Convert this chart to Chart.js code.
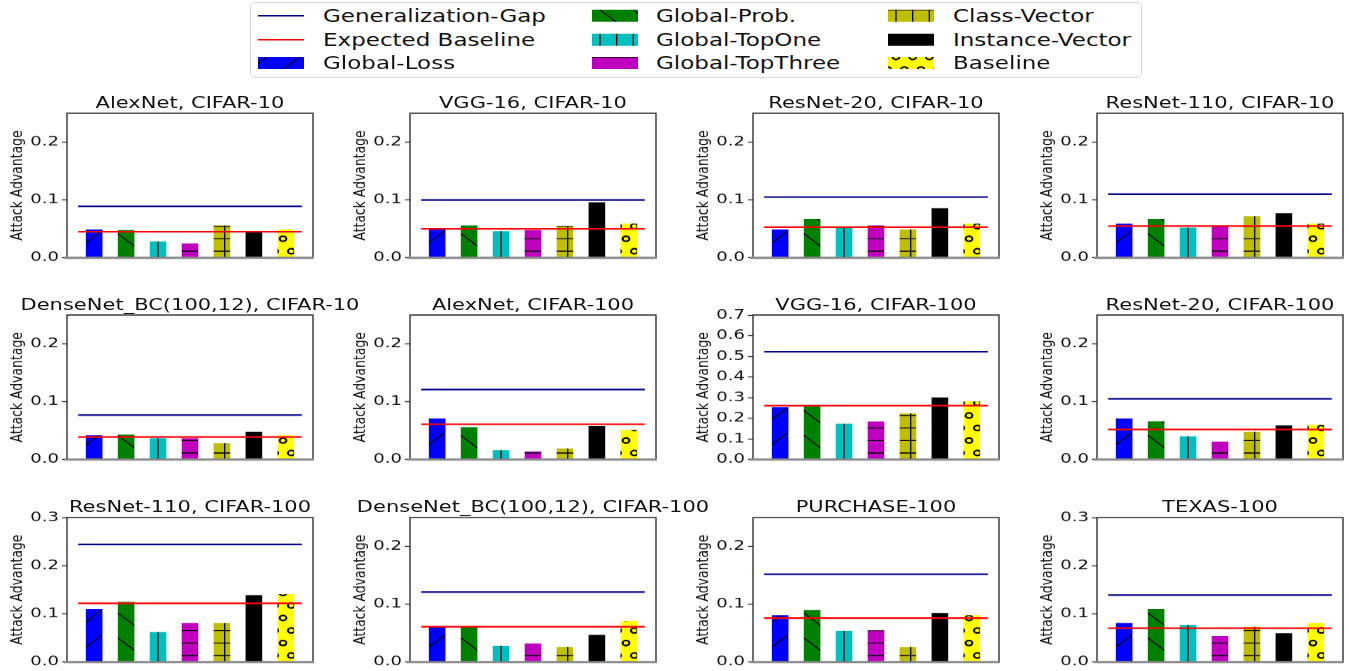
<!DOCTYPE html>
<html lang="en">
<head>
<meta charset="UTF-8">
<title>Attack Advantage per model and dataset</title>
<script src="https://cdn.jsdelivr.net/npm/chart.js"></script>
<style>
  html, body { margin: 0; padding: 0; background: #fff; overflow: hidden; }
  body { font-family: "DejaVu Sans", sans-serif; color: #111; }
  #page { position: absolute; left: 0; top: 0; width: 1349px; transform-origin: 0 0; }
  .panel { position: absolute; }
  .ptitle { position: absolute; font-size: 21px; line-height: 21px; white-space: nowrap; transform: translateX(-50%); }
  #legend { position: absolute; border: 1px solid #d0d0d0; border-radius: 6px; background: #fff; box-sizing: border-box; }
  .ltext { position: absolute; font-size: 23px; line-height: 23px; white-space: nowrap; }
  .lhandle { position: absolute; }
</style>
</head>
<body>
<div id="page"></div>
<script>
// ---- data ----
const methods = ['Global-Loss', 'Global-Prob.', 'Global-TopOne', 'Global-TopThree', 'Class-Vector', 'Instance-Vector', 'Baseline'];
const methodColors = ['#0000ff', '#008000', '#00bfbf', '#bf00bf', '#bfbf00', '#000000', '#ffff00'];
const methodHatches = ['/', '\\', '|', '-', '+', '', 'o'];
const xPos = [0, 1, 2, 3, 4, 5, 6];

const titles = [
  'AlexNet, CIFAR-10', 'VGG-16, CIFAR-10', 'ResNet-20, CIFAR-10', 'ResNet-110, CIFAR-10',
  'DenseNet_BC(100,12), CIFAR-10', 'AlexNet, CIFAR-100', 'VGG-16, CIFAR-100', 'ResNet-20, CIFAR-100',
  'ResNet-110, CIFAR-100', 'DenseNet_BC(100,12), CIFAR-100', 'PURCHASE-100', 'TEXAS-100'
];

// one row per subplot, one value per method
const attackAdv = [
  [0.049, 0.048, 0.028, 0.025, 0.056, 0.046, 0.049],
  [0.049, 0.056, 0.046, 0.048, 0.055, 0.096, 0.059],
  [0.049, 0.067, 0.052, 0.056, 0.049, 0.086, 0.059],
  [0.059, 0.067, 0.052, 0.055, 0.072, 0.077, 0.059],
  [0.042, 0.043, 0.037, 0.037, 0.028, 0.048, 0.042],
  [0.071, 0.056, 0.016, 0.014, 0.019, 0.058, 0.051],
  [0.253, 0.258, 0.174, 0.184, 0.223, 0.300, 0.281],
  [0.071, 0.066, 0.040, 0.031, 0.048, 0.059, 0.060],
  [0.110, 0.125, 0.062, 0.081, 0.081, 0.139, 0.141],
  [0.061, 0.061, 0.028, 0.032, 0.026, 0.047, 0.071],
  [0.081, 0.090, 0.054, 0.055, 0.026, 0.085, 0.081],
  [0.081, 0.110, 0.077, 0.054, 0.073, 0.060, 0.081]
];
const genGap = [0.089, 0.100, 0.105, 0.110, 0.077, 0.121, 0.522, 0.105, 0.244, 0.121, 0.152, 0.139];
const expBaseline = [0.045, 0.050, 0.053, 0.055, 0.039, 0.061, 0.261, 0.052, 0.122, 0.061, 0.076, 0.070];
const lineSpan = [-0.5, 6.5];

const yMax = [0.25, 0.25, 0.25, 0.25, 0.25, 0.25, 0.7, 0.25, 0.3, 0.25, 0.25, 0.3];
const ticks025 = [0, 0.1, 0.2];
const ticks03 = [0, 0.1, 0.2, 0.3];
const ticks07 = [0, 0.1, 0.2, 0.3, 0.4, 0.5, 0.6, 0.7];
const yTicks = [ticks025, ticks025, ticks025, ticks025, ticks025, ticks025, ticks07, ticks025, ticks03, ticks025, ticks025, ticks03];

// ---- layout (reference is squashed vertically; we draw tall then scale) ----
const SQ = 0.75;
const colLeft = [67, 410, 753, 1097];
const rowTop = [113.3, 315, 517.3];
const PLOT_W = 246, PLOT_H = 144.5, AXIS_W = 67;
const GAP_COLOR = '#00008b', BASE_COLOR = '#ff0000';

Chart.defaults.font.family = "'DejaVu Sans', sans-serif";
Chart.defaults.color = '#111';

const page = document.getElementById('page');
page.style.height = (671 / SQ) + 'px';
page.style.transform = 'scaleY(' + SQ + ')';

// matplotlib-like hatch, one 100px unit cell, 6 lines per unit
function makeHatch(color, hatch) {
  const U = 100, step = U / 6;
  const c = document.createElement('canvas');
  c.width = U; c.height = U;
  const g = c.getContext('2d');
  g.fillStyle = color;
  g.fillRect(0, 0, U, U);
  g.strokeStyle = '#000';
  g.lineWidth = 1.3;
  g.beginPath();
  if (hatch === '/') {
    for (let k = -3; k <= 3; k++) { g.moveTo(k * 2 * step, U); g.lineTo(k * 2 * step + U, 0); }
  } else if (hatch === '\\') {
    for (let k = -3; k <= 3; k++) { g.moveTo(k * 2 * step, 0); g.lineTo(k * 2 * step + U, U); }
  }
  if (hatch === '|' || hatch === '+') {
    for (let k = 0; k <= 6; k++) { g.moveTo(k * step, 0); g.lineTo(k * step, U); }
  }
  if (hatch === '-' || hatch === '+') {
    for (let k = 0; k <= 6; k++) { g.moveTo(0, k * step); g.lineTo(U, k * step); }
  }
  g.stroke();
  if (hatch === 'o') {
    g.lineWidth = 2;
    for (let r = 0; r <= 6; r++) {
      for (let j = -1; j <= 7; j++) {
        const x = (j + (r % 2 ? 0.5 : 0)) * step;
        g.beginPath();
        g.arc(x, r * step, 3.4, 0, Math.PI * 2);
        g.stroke();
      }
    }
  }
  const p = g.createPattern(c, 'repeat');
  p.setTransform(new DOMMatrix([1, 0, 0, 1, 8, 0]));
  return p;
}
const fills = methodColors.map((col, k) => makeHatch(col, methodHatches[k]));

const framePlugin = {
  id: 'frame',
  afterDatasetsDraw(chart) {
    const { ctx, chartArea: a } = chart;
    ctx.save();
    ctx.strokeStyle = '#222';
    ctx.lineWidth = 1.3;
    ctx.beginPath();
    ctx.moveTo(a.left, a.bottom); ctx.lineTo(a.left, a.top);
    ctx.lineTo(a.right, a.top); ctx.lineTo(a.right, a.bottom);
    ctx.stroke();
    ctx.strokeStyle = '#8a8a8a';
    ctx.lineWidth = 3;
    ctx.beginPath();
    ctx.moveTo(a.left - 3, a.bottom); ctx.lineTo(a.right + 1, a.bottom);
    ctx.stroke();
    ctx.restore();
  }
};

titles.forEach((title, i) => {
  const r = Math.floor(i / 4), c = i % 4;
  const topU = rowTop[r] / SQ, hU = PLOT_H / SQ;
  const padTop = 16;
  const canvasH = Math.ceil(padTop + hU + 16);

  const wrap = document.createElement('div');
  wrap.className = 'panel';
  wrap.style.left = (colLeft[c] - AXIS_W) + 'px';
  wrap.style.top = (topU - padTop) + 'px';
  const cv = document.createElement('canvas');
  cv.width = AXIS_W + PLOT_W + 6;
  cv.height = canvasH;
  wrap.appendChild(cv);
  page.appendChild(wrap);

  const t = document.createElement('div');
  t.className = 'ptitle';
  t.textContent = title;
  t.style.left = (colLeft[c] + PLOT_W / 2) + 'px';
  t.style.top = (topU - 5 / SQ - 17.8) + 'px';
  page.appendChild(t);

  new Chart(cv, {
    type: 'bar',
    data: {
      datasets: [
        { type: 'line', label: 'Generalization-Gap', data: lineSpan.map(x => ({ x, y: genGap[i] })),
          borderColor: GAP_COLOR, borderWidth: 2.2, pointRadius: 0 },
        { type: 'line', label: 'Expected Baseline', data: lineSpan.map(x => ({ x, y: expBaseline[i] })),
          borderColor: BASE_COLOR, borderWidth: 2.2, pointRadius: 0 },
        { type: 'bar', label: 'Attack', data: xPos.map((x, k) => ({ x, y: attackAdv[i][k] })),
          backgroundColor: fills, borderWidth: 0, barPercentage: 0.52, categoryPercentage: 1 }
      ]
    },
    options: {
      responsive: false,
      animation: false,
      devicePixelRatio: 1,
      layout: { padding: { top: padTop, bottom: canvasH - padTop - hU, left: 0, right: 6 } },
      plugins: { legend: { display: false }, tooltip: { enabled: false } },
      scales: {
        x: {
          type: 'linear', min: -0.85, max: 6.85, offset: false, display: false,
          afterBuildTicks: s => { s.ticks = xPos.map(v => ({ value: v })); }
        },
        y: {
          min: 0, max: yMax[i],
          afterBuildTicks: s => { s.ticks = yTicks[i].map(v => ({ value: v })); },
          afterFit: s => { s.width = AXIS_W; },
          border: { display: false },
          grid: { drawOnChartArea: false, drawTicks: true, tickLength: 5, tickColor: '#222', tickWidth: 1.3 },
          ticks: { padding: 3, font: { size: 18 }, color: '#111', callback: v => v.toFixed(1) },
          title: { display: true, text: 'Attack Advantage', font: { size: 16.5 }, color: '#111', padding: { top: 7.5, bottom: 0 } }
        }
      }
    },
    plugins: [framePlugin]
  });
});

// ---- legend ----
const legendEntries = [
  { label: 'Generalization-Gap', line: GAP_COLOR },
  { label: 'Expected Baseline', line: BASE_COLOR }
].concat(methods.map((m, k) => ({ label: m, fill: fills[k] })));
const legBox = { left: 250, right: 1142, top: 2, bottom: 78 };
const legHandleX = [258, 592, 888];
const legTextX = [323, 656, 953];
const legRowY = [16, 40, 63];

const box = document.createElement('div');
box.id = 'legend';
box.style.left = legBox.left + 'px';
box.style.top = (legBox.top / SQ) + 'px';
box.style.width = (legBox.right - legBox.left) + 'px';
box.style.height = ((legBox.bottom - legBox.top) / SQ) + 'px';
page.appendChild(box);

legendEntries.forEach((e, k) => {
  const col = Math.floor(k / 3), row = k % 3;
  const cy = legRowY[row] / SQ;
  const h = document.createElement('canvas');
  h.className = 'lhandle';
  h.width = 46; h.height = 16;
  h.style.left = legHandleX[col] + 'px';
  h.style.top = (cy - 8) + 'px';
  const g = h.getContext('2d');
  if (e.line) {
    g.strokeStyle = e.line; g.lineWidth = 2.2;
    g.beginPath(); g.moveTo(0, 8); g.lineTo(46, 8); g.stroke();
  } else {
    g.fillStyle = e.fill; g.fillRect(0, 0, 46, 16);
  }
  page.appendChild(h);
  const t = document.createElement('div');
  t.className = 'ltext';
  t.textContent = e.label;
  t.style.left = legTextX[col] + 'px';
  t.style.top = (cy - 11.5) + 'px';
  page.appendChild(t);
});
</script>
</body>
</html>
